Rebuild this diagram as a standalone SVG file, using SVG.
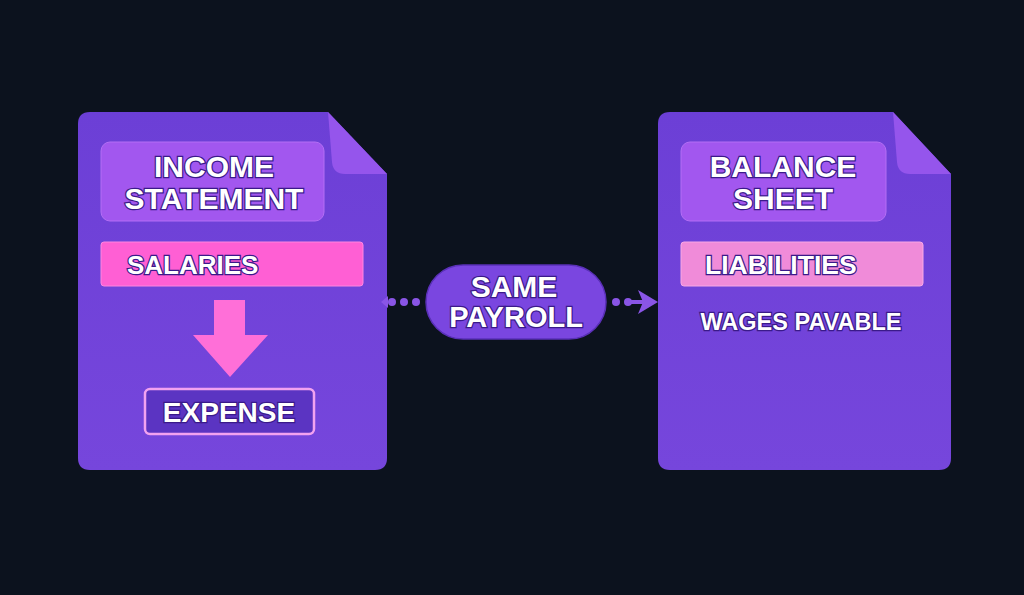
<svg xmlns="http://www.w3.org/2000/svg" width="1024" height="595" viewBox="0 0 1024 595">
<defs>
<style>
.t{font-family:"Liberation Sans",Arial,sans-serif;font-weight:bold;fill:#ffffff;stroke:#3a1a8a;stroke-width:2.5;paint-order:stroke;text-anchor:middle}
.s{text-anchor:start}
.doc{fill:#7044d9}
.fold{fill:#9555ec}
.title{fill:#a257ef;stroke:#b46ff5;stroke-width:1}
.dot{fill:#8a55e6}
</style>
<linearGradient id="g" x1="0" y1="0" x2="0" y2="1">
<stop offset="0" stop-color="#6c3fd6"/>
<stop offset="1" stop-color="#7646dc"/>
</linearGradient>
</defs>
<rect width="1024" height="595" fill="#0c121e"/>
<g id="income-statement">
<path d="M90,112 H328 L387,174 V458 Q387,470 375,470 H90 Q78,470 78,458 V124 Q78,112 90,112 Z" fill="url(#g)"/>
<path d="M328,112 L387,174 H345 Q333,174 332,162 Z" class="fold"/>
<rect x="101" y="142" width="223" height="79" rx="9" class="title"/>
<text class="t" x="214" y="177" font-size="30">INCOME</text>
<text class="t" x="214" y="209" font-size="30">STATEMENT</text>
<rect x="101" y="242" width="262" height="44" rx="3" fill="#ff5fd4" stroke="#ff86e0" stroke-width="1"/>
<text class="t s" x="127" y="274" font-size="26">SALARIES</text>
<path d="M214,300 H245 V335 H268 L230,377 L193,335 H214 Z" fill="#ff6fd8"/>
<rect x="145" y="389" width="169" height="45" rx="5" fill="#5b34c2" stroke="#f2a2f0" stroke-width="2.5"/>
<text class="t" x="229" y="422" font-size="28">EXPENSE</text>
</g>
<g id="balance-sheet">
<path d="M670,112 H893 L951,174 V458 Q951,470 939,470 H670 Q658,470 658,458 V124 Q658,112 670,112 Z" fill="url(#g)"/>
<path d="M893,112 L951,174 H910 Q898,174 897,162 Z" class="fold"/>
<rect x="681" y="142" width="205" height="79" rx="9" class="title"/>
<text class="t" x="783" y="177" font-size="30">BALANCE</text>
<text class="t" x="783" y="209" font-size="30">SHEET</text>
<rect x="681" y="242" width="242" height="44" rx="3" fill="#f08bd9" stroke="#f8a8e6" stroke-width="1"/>
<text class="t s" x="705" y="274" font-size="26.5">LIABILITIES</text>
<text class="t" x="801" y="330" font-size="23.5">WAGES PAVABLE</text>
</g>
<g id="same-payroll">
<rect x="426" y="265" width="180" height="74" rx="37" fill="#7a46e0" stroke="#5a30b8" stroke-width="1.5"/>
<text class="t" x="514" y="297" font-size="30">SAME</text>
<text class="t" x="516" y="327" font-size="29">PAYROLL</text>
</g>
<g id="connectors">
<path d="M381,302 L388,296 V308 Z" class="dot"/>
<circle cx="392" cy="302" r="4" class="dot"/>
<circle cx="404" cy="302" r="4" class="dot"/>
<circle cx="416" cy="302" r="4" class="dot"/>
<circle cx="616" cy="302" r="4" class="dot"/>
<circle cx="628" cy="302" r="4" class="dot"/>
<line x1="628" y1="302" x2="645" y2="302" stroke="#8a55e6" stroke-width="4"/>
<path d="M638,290 L658,302 L638,314 L643,302 Z" class="dot"/>
</g>
</svg>
